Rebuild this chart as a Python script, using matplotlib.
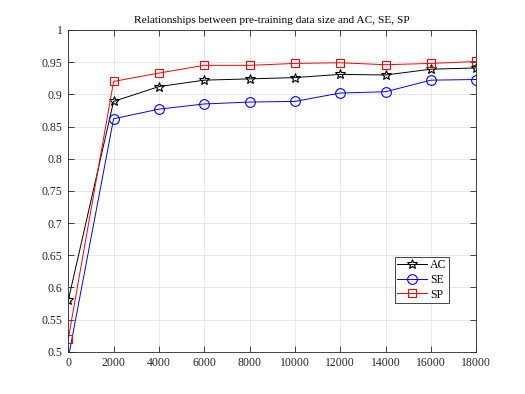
import matplotlib.pyplot as plt
import numpy as np

plt.rcParams['font.family'] = ['Liberation Serif', 'DejaVu Serif']

# pre-training data size
sizes = [0, 2000, 4000, 6000, 8000, 10000, 12000, 14000, 16000, 18000]
ac = [0.58, 0.889, 0.912, 0.922, 0.924, 0.926, 0.931, 0.930, 0.939, 0.941]
se = [0.49, 0.862, 0.877, 0.885, 0.888, 0.889, 0.902, 0.904, 0.922, 0.923]
sp = [0.52, 0.920, 0.933, 0.945, 0.945, 0.948, 0.949, 0.946, 0.948, 0.951]

fig = plt.figure(figsize=(5.25, 3.94), dpi=100)
ax = fig.add_axes([0.13, 0.107, 0.777, 0.817])

ax.plot(sizes, ac, color='black', marker='*', markersize=7.5, markerfacecolor='none',
        markeredgecolor='black', markeredgewidth=0.8, linewidth=0.7, label='AC')
ax.plot(sizes, se, color='blue', marker='o', markersize=7, markerfacecolor='none',
        markeredgewidth=0.8, linewidth=0.7, label='SE')
ax.plot(sizes, sp, color='red', marker='s', markersize=5.5, markerfacecolor='none',
        markeredgewidth=0.8, linewidth=0.7, label='SP')

ax.set_xlim(0, 18000)
ax.set_ylim(0.5, 1.0)
ax.set_xticks(np.arange(0, 18001, 2000))
ax.set_yticks(np.arange(0.5, 1.001, 0.05))
ax.set_yticklabels(['0.5', '0.55', '0.6', '0.65', '0.7', '0.75', '0.8', '0.85', '0.9', '0.95', '1'])
ax.grid(True, color='#e3e3e3', linewidth=0.6)
ax.set_axisbelow(True)
ax.tick_params(direction='in', top=True, right=True, labelsize=8.5, length=4, width=0.6,
               colors='#262626', pad=4)
for s in ax.spines.values():
    s.set_linewidth(0.6)
    s.set_color('#262626')

ax.set_title('Relationships between pre-training data size and AC, SE, SP', fontsize=8.2, pad=5)

leg = ax.legend(loc='lower right', bbox_to_anchor=(0.933, 0.152), fontsize=8.5,
                fancybox=False, framealpha=1, edgecolor='#262626',
                handlelength=2.5, borderpad=0.2, labelspacing=0.22, handletextpad=0.3,
                borderaxespad=0)
leg.get_frame().set_linewidth(0.6)

fig.savefig('out.png', dpi=100)
